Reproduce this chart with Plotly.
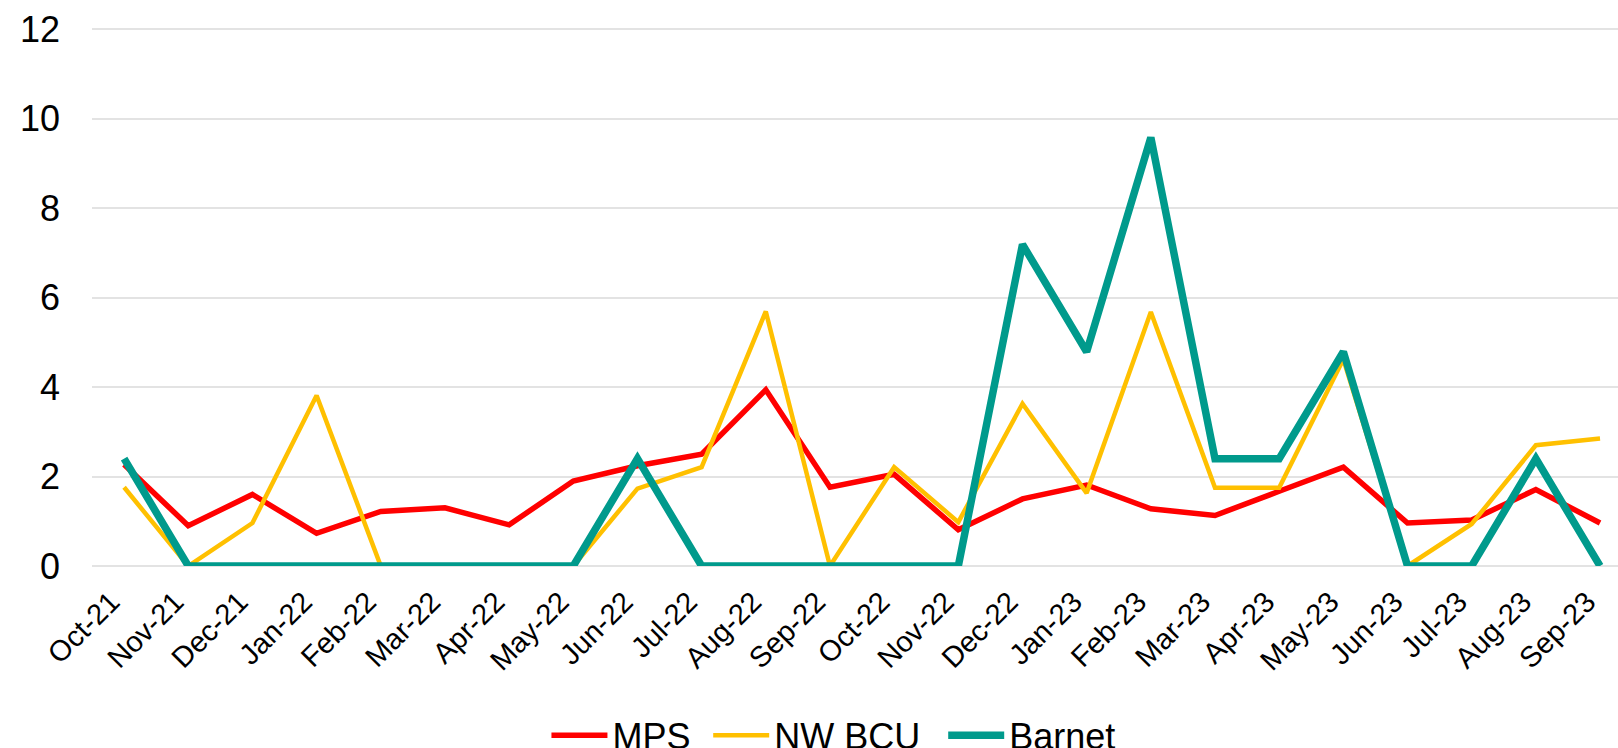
import plotly.graph_objects as go

months = ["Oct-21", "Nov-21", "Dec-21", "Jan-22", "Feb-22", "Mar-22", "Apr-22", "May-22",
          "Jun-22", "Jul-22", "Aug-22", "Sep-22", "Oct-22", "Nov-22", "Dec-22", "Jan-23",
          "Feb-23", "Mar-23", "Apr-23", "May-23", "Jun-23", "Jul-23", "Aug-23", "Sep-23"]

mps = [2.27, 0.90, 1.60, 0.73, 1.22, 1.30, 0.92, 1.90, 2.24, 2.50, 3.94, 1.76,
       2.05, 0.81, 1.50, 1.81, 1.28, 1.13, 1.67, 2.21, 0.96, 1.03, 1.71, 0.96]
nw_bcu = [1.76, 0, 0.96, 3.81, 0, 0, 0, 0, 1.73, 2.21, 5.69, 0,
          2.21, 0.98, 3.63, 1.63, 5.68, 1.75, 1.75, 4.62, 0, 0.94, 2.70, 2.85]
barnet = [2.40, 0, 0, 0, 0, 0, 0, 0, 2.40, 0, 0, 0,
          0, 0, 7.19, 4.79, 9.58, 2.40, 2.40, 4.79, 0, 0, 2.40, 0]

y_ticks = [0, 2, 4, 6, 8, 10, 12]

FONT = "Liberation Sans, Arial, sans-serif"

fig = go.Figure()
fig.add_trace(go.Scatter(x=months, y=mps, mode="lines", name="MPS", legend="legend",
                         line=dict(color="#FF0000", width=5.5)))
fig.add_trace(go.Scatter(x=months, y=nw_bcu, mode="lines", name="NW BCU", legend="legend2",
                         line=dict(color="#FFC000", width=4.5)))
fig.add_trace(go.Scatter(x=months, y=barnet, mode="lines", name="Barnet", legend="legend3",
                         line=dict(color="#009A8C", width=7.5)))


def leg(x):
    return dict(orientation="h", x=x, xanchor="left", y=-0.314, yanchor="middle",
                font=dict(size=36, family=FONT, color="black"),
                itemwidth=56, bgcolor="rgba(0,0,0,0)")


fig.update_layout(
    width=1618, height=748,
    paper_bgcolor="white", plot_bgcolor="white",
    margin=dict(l=92, r=0, t=27, b=182, autoexpand=False),
    font=dict(family=FONT, color="black"),
    showlegend=True,
    legend=leg(0.2978), legend2=leg(0.4038), legend3=leg(0.5578),
)
fig.update_xaxes(type="category", range=[-0.5, 23.28], showgrid=False,
                 showline=False, ticks="", tickangle=-45,
                 ticklabelshift=-13, ticklabelstandoff=12,
                 tickfont=dict(size=29, family=FONT, color="black"))
fig.update_yaxes(range=[0, 12.05], tickvals=y_ticks, showgrid=True, gridcolor="#E3E3E3",
                 gridwidth=1.5, zeroline=True, zerolinecolor="#E3E3E3", zerolinewidth=1.5,
                 showline=False, ticks="", ticklabelstandoff=31,
                 tickfont=dict(size=36, family=FONT, color="black"))

fig.write_html("out.html", config={"displayModeBar": False},
               post_script="document.body.style.margin='0px';")
